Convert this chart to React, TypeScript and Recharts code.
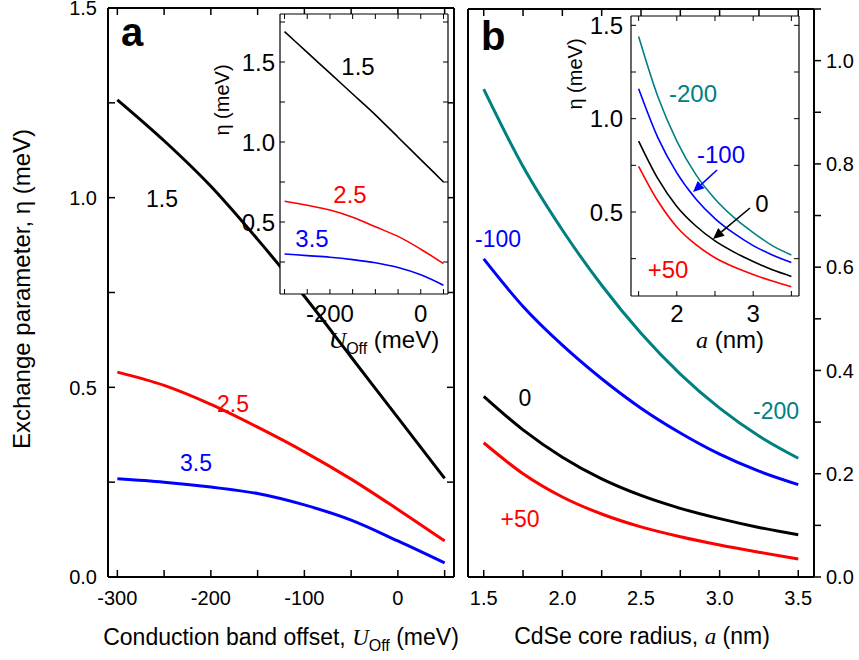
import React from 'react';
import { LineChart, Line, XAxis, YAxis, ReferenceArea, ReferenceLine } from 'recharts';

const FONT = '"Liberation Sans", Arial, sans-serif';
const SERIF = '"Liberation Serif", "Times New Roman", serif';

// Panel a: conduction band offset (meV)
const uOff = [-300, -250, -200, -150, -100, -50, 0, 50];
const etaA15 = [1.258, 1.15, 1.03, 0.89, 0.74, 0.58, 0.42, 0.26];
const etaA25 = [0.54, 0.505, 0.455, 0.395, 0.33, 0.258, 0.178, 0.095];
const etaA35 = [0.259, 0.25, 0.237, 0.22, 0.19, 0.15, 0.095, 0.037];
// Inset a
const insA15 = [1.69, 1.56, 1.43, 1.3, 1.17, 1.03, 0.89, 0.75];
const insA25 = [0.63, 0.605, 0.575, 0.53, 0.47, 0.41, 0.33, 0.24];
const insA35 = [0.3, 0.29, 0.28, 0.265, 0.245, 0.215, 0.17, 0.105];

// Panel b: core radius (nm)
const radius = [1.5, 1.75, 2.0, 2.25, 2.5, 2.75, 3.0, 3.25, 3.5];
const etaBm200 = [0.945, 0.795, 0.672, 0.565, 0.472, 0.393, 0.327, 0.273, 0.23];
const etaBm100 = [0.616, 0.524, 0.449, 0.384, 0.327, 0.279, 0.238, 0.205, 0.179];
const etaB0 = [0.35, 0.285, 0.232, 0.19, 0.158, 0.133, 0.113, 0.096, 0.082];
const etaBp50 = [0.26, 0.2, 0.155, 0.122, 0.097, 0.078, 0.062, 0.048, 0.035];
// Inset b
const insBm200 = [1.44, 1.12, 0.88, 0.7, 0.57, 0.47, 0.39, 0.32, 0.27];
const insBm100 = [1.16, 0.9, 0.71, 0.57, 0.465, 0.385, 0.32, 0.27, 0.23];
const insB0 = [0.88, 0.68, 0.53, 0.425, 0.345, 0.285, 0.235, 0.19, 0.155];
const insBp50 = [0.745, 0.56, 0.42, 0.325, 0.255, 0.205, 0.165, 0.13, 0.1];

// Ticks
const uTicks = [-300, -250, -200, -150, -100, -50, 0, 50];
const etaLeftTicks = [0, 0.25, 0.5, 0.75, 1.0, 1.25, 1.5];
const rTicks = [1.5, 1.75, 2.0, 2.25, 2.5, 2.75, 3.0, 3.25, 3.5];
const etaRightTicks = [0, 0.1, 0.2, 0.3, 0.4, 0.5, 0.6, 0.7, 0.8, 0.9, 1.0, 1.1];
const insAEtaTicks = [0.25, 0.5, 0.75, 1.0, 1.25, 1.5, 1.75];
const insBEtaTicks = [0.25, 0.5, 0.75, 1.0, 1.25, 1.5];
const insRTicks = [1.5, 2, 2.5, 3, 3.5];

const leftData = uOff.map((u, i) => ({ u, a15: etaA15[i], a25: etaA25[i], a35: etaA35[i] }));
const insAData = uOff.map((u, i) => ({ u, a15: insA15[i], a25: insA25[i], a35: insA35[i] }));
const rightData = radius.map((r, i) => ({ r, m200: etaBm200[i], m100: etaBm100[i], z: etaB0[i], p50: etaBp50[i] }));
const insBData = radius.map((r, i) => ({ r, m200: insBm200[i], m100: insBm100[i], z: insB0[i], p50: insBp50[i] }));

const BLACK = '#000000';
const RED = '#ff0000';
const BLUE = '#0000ff';
const TEAL = '#008080';

type TickOpts = { len: number; fontSize: number; gap: number; other?: number; sw: number; fmt: (v: number) => string };

const bottomTick = (o: TickOpts) => (props: any) => {
  const { x, y, payload } = props;
  const label = o.fmt(payload.value);
  return (
    <g>
      <line x1={x} y1={y} x2={x} y2={y - o.len} stroke="#000" strokeWidth={o.sw} />
      {o.other !== undefined && (
        <line x1={x} y1={o.other} x2={x} y2={o.other + o.len} stroke="#000" strokeWidth={o.sw} />
      )}
      {label !== '' && (
        <text x={x} y={y + o.gap} dy="0.71em" textAnchor="middle" fontSize={o.fontSize} fontFamily={FONT} fill="#000">
          {label}
        </text>
      )}
    </g>
  );
};

const leftTick = (o: TickOpts) => (props: any) => {
  const { x, y, payload } = props;
  const label = o.fmt(payload.value);
  return (
    <g>
      <line x1={x} y1={y} x2={x + o.len} y2={y} stroke="#000" strokeWidth={o.sw} />
      {o.other !== undefined && (
        <line x1={o.other} y1={y} x2={o.other - o.len} y2={y} stroke="#000" strokeWidth={o.sw} />
      )}
      {label !== '' && (
        <text x={x - o.gap} y={y} dy="0.36em" textAnchor="end" fontSize={o.fontSize} fontFamily={FONT} fill="#000">
          {label}
        </text>
      )}
    </g>
  );
};

const rightOutTick = (o: TickOpts) => (props: any) => {
  const { x, y, payload } = props;
  const label = o.fmt(payload.value);
  return (
    <g>
      <line x1={x} y1={y} x2={x + o.len} y2={y} stroke="#000" strokeWidth={o.sw} />
      {label !== '' && (
        <text x={x + o.len + o.gap} y={y} dy="0.36em" textAnchor="start" fontSize={o.fontSize} fontFamily={FONT} fill="#000">
          {label}
        </text>
      )}
    </g>
  );
};

const half = (v: number) => (Math.round(v * 100) % 50 === 0 ? v.toFixed(1) : '');

function Arrow({ x1, y1, x2, y2, color }: { x1: number; y1: number; x2: number; y2: number; color: string }) {
  const dx = x2 - x1;
  const dy = y2 - y1;
  const len = Math.hypot(dx, dy);
  const ux = dx / len;
  const uy = dy / len;
  const hl = 11;
  const hw = 5;
  const bx = x2 - ux * hl;
  const by = y2 - uy * hl;
  const pts = `${x2},${y2} ${bx - uy * hw},${by + ux * hw} ${bx + uy * hw},${by - ux * hw}`;
  return (
    <g>
      <line x1={x1} y1={y1} x2={bx} y2={by} stroke={color} strokeWidth={1.6} />
      <polygon points={pts} fill={color} />
    </g>
  );
}

const abs = (left: number, top: number): React.CSSProperties => ({ position: 'absolute', left, top });

export default function App() {
  const frameMain = { stroke: '#000', strokeWidth: 2, ifOverflow: 'visible' as const };
  const frameIns = { stroke: '#000', strokeWidth: 1.2, ifOverflow: 'visible' as const };
  const axCommon = { tickSize: 0, tickMargin: 0, axisLine: false, tickLine: false, interval: 0 as const };
  return (
    <div style={{ position: 'absolute', left: 0, top: 0, width: 859, height: 660, background: '#fff', fontFamily: FONT }}>
      {/* Panel a */}
      <div style={abs(0, 0)}>
        <LineChart width={470} height={660} data={leftData} margin={{ top: 8, right: 16, bottom: 43, left: 48 }}>
          <XAxis dataKey="u" type="number" domain={[-310, 60]} ticks={uTicks} height={40} {...axCommon}
            tick={bottomTick({ len: 7, fontSize: 20, gap: 14, other: 8, sw: 1.5, fmt: (v) => (v % 100 === 0 ? String(v) : '') })} />
          <YAxis type="number" domain={[0, 1.5]} ticks={etaLeftTicks} width={60} {...axCommon}
            tick={leftTick({ len: 7, fontSize: 20, gap: 11, other: 454, sw: 1.5, fmt: half })} />
          <ReferenceLine x={-310} {...frameMain} />
          <ReferenceLine x={60} {...frameMain} />
          <ReferenceLine y={0} {...frameMain} />
          <ReferenceLine y={1.5} {...frameMain} />
          <Line dataKey="a15" type="monotone" stroke={BLACK} strokeWidth={3} dot={false} isAnimationActive={false} />
          <Line dataKey="a25" type="monotone" stroke={RED} strokeWidth={3} dot={false} isAnimationActive={false} />
          <Line dataKey="a35" type="monotone" stroke={BLUE} strokeWidth={3} dot={false} isAnimationActive={false} />
        </LineChart>
      </div>

      {/* Panel b */}
      <div style={abs(460, 0)}>
        <LineChart width={399} height={660} data={rightData} margin={{ top: 9, right: 0, bottom: 43, left: 8 }}>
          <XAxis dataKey="r" type="number" domain={[1.4, 3.6]} ticks={rTicks} height={40} {...axCommon}
            tick={bottomTick({ len: 7, fontSize: 20, gap: 14, other: 9, sw: 1.5, fmt: half })} />
          <YAxis yAxisId="r" orientation="right" type="number" domain={[0, 1.1]} ticks={etaRightTicks} width={45} {...axCommon}
            tick={rightOutTick({ len: 7, fontSize: 20, gap: 5, sw: 1.5, fmt: (v) => (Math.round(v * 10) % 2 === 0 ? v.toFixed(1) : '') })} />
          <ReferenceLine yAxisId="r" x={1.4} {...frameMain} />
          <ReferenceLine yAxisId="r" x={3.6} {...frameMain} />
          <ReferenceLine yAxisId="r" y={0} {...frameMain} />
          <ReferenceLine yAxisId="r" y={1.1} {...frameMain} />
          <Line yAxisId="r" dataKey="m200" type="monotone" stroke={TEAL} strokeWidth={3} dot={false} isAnimationActive={false} />
          <Line yAxisId="r" dataKey="m100" type="monotone" stroke={BLUE} strokeWidth={3} dot={false} isAnimationActive={false} />
          <Line yAxisId="r" dataKey="z" type="monotone" stroke={BLACK} strokeWidth={3} dot={false} isAnimationActive={false} />
          <Line yAxisId="r" dataKey="p50" type="monotone" stroke={RED} strokeWidth={3} dot={false} isAnimationActive={false} />
        </LineChart>
      </div>

      {/* Inset a */}
      <div style={abs(220, 0)}>
        <LineChart width={240} height={360} data={insAData} margin={{ top: 14, right: 12, bottom: 26, left: 15 }}>
          <ReferenceArea x1={-310} x2={60} y1={0.05} y2={1.8} fill="#fff" fillOpacity={1} stroke="none" />
          <XAxis dataKey="u" type="number" domain={[-310, 60]} ticks={uTicks} height={40} {...axCommon}
            tick={bottomTick({ len: 5, fontSize: 24, gap: 11, other: 14, sw: 1, fmt: (v) => (v === -200 || v === 0 ? String(v) : '') })} />
          <YAxis type="number" domain={[0.05, 1.8]} ticks={insAEtaTicks} width={45} {...axCommon}
            tick={leftTick({ len: 5, fontSize: 24, gap: 5, other: 448 - 220, sw: 1, fmt: half })} />
          <ReferenceLine x={-310} {...frameIns} />
          <ReferenceLine x={60} {...frameIns} />
          <ReferenceLine y={0.05} {...frameIns} />
          <ReferenceLine y={1.8} {...frameIns} />
          <Line dataKey="a15" type="monotone" stroke={BLACK} strokeWidth={1.6} dot={false} isAnimationActive={false} />
          <Line dataKey="a25" type="monotone" stroke={RED} strokeWidth={1.6} dot={false} isAnimationActive={false} />
          <Line dataKey="a35" type="monotone" stroke={BLUE} strokeWidth={1.6} dot={false} isAnimationActive={false} />
        </LineChart>
      </div>

      {/* Inset b */}
      <div style={abs(571, 0)}>
        <LineChart width={240} height={360} data={insBData} margin={{ top: 16, right: 12, bottom: 24, left: 15 }}>
          <ReferenceArea x1={1.4} x2={3.6} y1={0.05} y2={1.55} fill="#fff" fillOpacity={1} stroke="none" />
          <XAxis dataKey="r" type="number" domain={[1.4, 3.6]} ticks={insRTicks} height={40} {...axCommon}
            tick={bottomTick({ len: 5, fontSize: 24, gap: 9, other: 16, sw: 1, fmt: (v) => (v === 2 || v === 3 ? String(v) : '') })} />
          <YAxis type="number" domain={[0.05, 1.55]} ticks={insBEtaTicks} width={45} {...axCommon}
            tick={leftTick({ len: 5, fontSize: 24, gap: 8, other: 799 - 571, sw: 1, fmt: half })} />
          <ReferenceLine x={1.4} {...frameIns} />
          <ReferenceLine x={3.6} {...frameIns} />
          <ReferenceLine y={0.05} {...frameIns} />
          <ReferenceLine y={1.55} {...frameIns} />
          <Line dataKey="m200" type="monotone" stroke={TEAL} strokeWidth={1.6} dot={false} isAnimationActive={false} />
          <Line dataKey="m100" type="monotone" stroke={BLUE} strokeWidth={1.6} dot={false} isAnimationActive={false} />
          <Line dataKey="z" type="monotone" stroke={BLACK} strokeWidth={1.6} dot={false} isAnimationActive={false} />
          <Line dataKey="p50" type="monotone" stroke={RED} strokeWidth={1.6} dot={false} isAnimationActive={false} />
        </LineChart>
      </div>

      {/* Annotations */}
      <svg width={859} height={660} style={{ position: 'absolute', left: 0, top: 0, pointerEvents: 'none' }}
        fontFamily={FONT}>
        <text x={121} y={46} fontSize={40} fontWeight="bold" fill="#000">a</text>
        <text x={481} y={50} fontSize={40} fontWeight="bold" fill="#000">b</text>

        {/* panel a labels */}
        <text x={162} y={207} fontSize={23} textAnchor="middle" fill={BLACK}>1.5</text>
        <text x={233} y={412} fontSize={23} textAnchor="middle" fill={RED}>2.5</text>
        <text x={196} y={471} fontSize={23} textAnchor="middle" fill={BLUE}>3.5</text>

        {/* panel b labels */}
        <text x={498} y={247} fontSize={23} textAnchor="middle" fill={BLUE}>-100</text>
        <text x={525} y={406} fontSize={23} textAnchor="middle" fill={BLACK}>0</text>
        <text x={520} y={527} fontSize={23} textAnchor="middle" fill={RED}>+50</text>
        <text x={776} y={419} fontSize={23} textAnchor="middle" fill={TEAL}>-200</text>

        {/* inset a labels */}
        <text x={358} y={75} fontSize={24} textAnchor="middle" fill={BLACK}>1.5</text>
        <text x={350} y={203} fontSize={24} textAnchor="middle" fill={RED}>2.5</text>
        <text x={312} y={247} fontSize={24} textAnchor="middle" fill={BLUE}>3.5</text>

        {/* inset b labels */}
        <text x={693} y={102} fontSize={24} textAnchor="middle" fill={TEAL}>-200</text>
        <text x={721} y={163} fontSize={24} textAnchor="middle" fill={BLUE}>-100</text>
        <text x={762} y={212} fontSize={24} textAnchor="middle" fill={BLACK}>0</text>
        <text x={668} y={278} fontSize={24} textAnchor="middle" fill={RED}>+50</text>
        <Arrow x1={717} y1={170} x2={693} y2={192} color={BLUE} />
        <Arrow x1={750} y1={208} x2={713} y2={239} color={BLACK} />

        {/* inset axis titles */}
        <text x={229} y={100} fontSize={20} textAnchor="middle" transform="rotate(-90 229 100)" fill="#000">η (meV)</text>
        <text x={582} y={74} fontSize={20} textAnchor="middle" transform="rotate(-90 582 74)" fill="#000">η (meV)</text>
        <text x={384} y={348} fontSize={24} textAnchor="middle" fill="#000">
          <tspan fontFamily={SERIF} fontStyle="italic">U</tspan>
          <tspan fontSize={16} dy={6}>Off</tspan>
          <tspan dy={-6}> (meV)</tspan>
        </text>
        <text x={730} y={348} fontSize={24} textAnchor="middle" fill="#000">
          <tspan fontFamily={SERIF} fontStyle="italic">a</tspan>
          <tspan> (nm)</tspan>
        </text>

        {/* main axis titles */}
        <text x={30} y={289} fontSize={24} textAnchor="middle" transform="rotate(-90 30 289)" fill="#000">
          Exchange parameter, η (meV)
        </text>
        <text x={281} y={645} fontSize={23} textAnchor="middle" fill="#000">
          <tspan>Conduction band offset, </tspan>
          <tspan fontFamily={SERIF} fontStyle="italic">U</tspan>
          <tspan fontSize={16} dy={6}>Off</tspan>
          <tspan dy={-6}> (meV)</tspan>
        </text>
        <text x={642} y={644} fontSize={23} textAnchor="middle" fill="#000">
          <tspan>CdSe core radius, </tspan>
          <tspan fontFamily={SERIF} fontStyle="italic">a</tspan>
          <tspan> (nm)</tspan>
        </text>
      </svg>
    </div>
  );
}
